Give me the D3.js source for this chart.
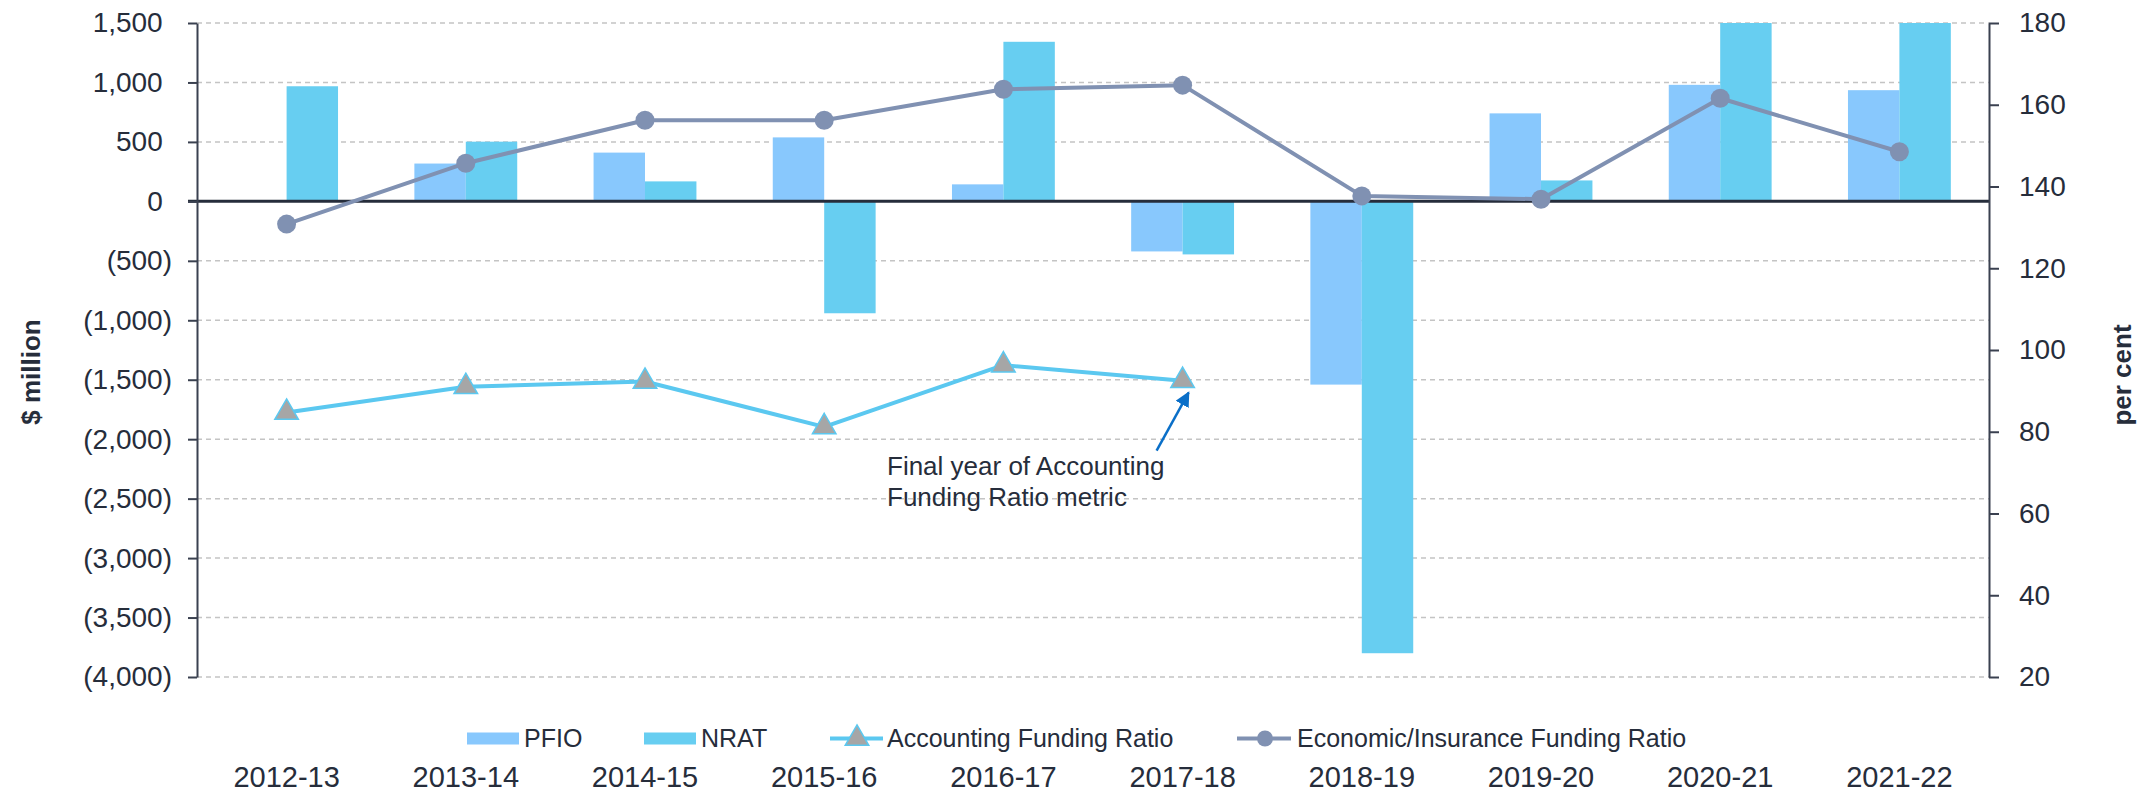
<!DOCTYPE html>
<html>
<head>
<meta charset="utf-8">
<script src="https://cdn.jsdelivr.net/npm/d3@7"></script>
<style>
  html, body { margin: 0; padding: 0; background: #fff; }
  svg { display: block; font-family: "Liberation Sans", Arial, sans-serif; }
</style>
</head>
<body>
<svg id="chart" width="2152" height="805"></svg>
<script>
// ---- data ----
const categories = ["2012-13","2013-14","2014-15","2015-16","2016-17","2017-18","2018-19","2019-20","2020-21","2021-22"];
const pfio = [0, 318, 410, 538, 143, -421, -1541, 740, 980, 935];
const nrat = [968, 502, 168, -941, 1342, -446, -3800, 176, 1500, 1500];
const accountingRatio = [84.7, 91.0, 92.3, 81.2, 96.3, 92.5, null, null, null, null];
const economicRatio = [130.8, 145.7, 156.2, 156.2, 163.8, 164.8, 137.7, 136.9, 161.6, 148.5];
const leftTicks = [1500, 1000, 500, 0, -500, -1000, -1500, -2000, -2500, -3000, -3500, -4000];
const rightTicks = [20, 40, 60, 80, 100, 120, 140, 160, 180];
const seriesNames = ["PFIO", "NRAT", "Accounting Funding Ratio", "Economic/Insurance Funding Ratio"];
const annotationLines = ["Final year of Accounting", "Funding Ratio metric"];
const leftTitle = "$ million";
const rightTitle = "per cent";

// ---- styles ----
const C = {
  pfio: "#88C8FD",
  nrat: "#67CEF1",
  acc: "#5BC8F0",
  accMarker: "#A6A6A6",
  eco: "#8091B2",
  text: "#262D3B",
  axis: "#3A4150",
  grid: "#C4C4C4",
  arrow: "#0A6FC8"
};

const svg = d3.select("#chart");
const L = 197, R = 1989, T = 23, B = 677;

const x = d3.scaleBand().domain(categories).range([L, R]).paddingInner(0).paddingOuter(0);
const y = d3.scaleLinear().domain([-4000, 1500]).range([B, T]);
const y2 = d3.scaleLinear().domain([20, 180]).range([B, T]);
const barW = x.bandwidth() * 0.287;

// gridlines
svg.append("g").selectAll("line").data(leftTicks.filter(d => d !== 0)).join("line")
  .attr("x1", L).attr("x2", R)
  .attr("y1", d => y(d)).attr("y2", d => y(d))
  .attr("stroke", C.grid).attr("stroke-width", 1.5).attr("stroke-dasharray", "5,4");

// bars
const bars = svg.append("g");
bars.selectAll("rect.pfio").data(categories).join("rect").attr("class", "pfio")
  .attr("x", (c) => x(c) + x.bandwidth() / 2 - barW)
  .attr("width", barW)
  .attr("y", (c, i) => Math.min(y(pfio[i]), y(0)))
  .attr("height", (c, i) => Math.abs(y(pfio[i]) - y(0)))
  .attr("fill", C.pfio);
bars.selectAll("rect.nrat").data(categories).join("rect").attr("class", "nrat")
  .attr("x", (c) => x(c) + x.bandwidth() / 2)
  .attr("width", barW)
  .attr("y", (c, i) => Math.min(y(nrat[i]), y(0)))
  .attr("height", (c, i) => Math.abs(y(nrat[i]) - y(0)))
  .attr("fill", C.nrat);

// zero line
svg.append("line").attr("x1", L - 9).attr("x2", R).attr("y1", y(0)).attr("y2", y(0))
  .attr("stroke", C.text).attr("stroke-width", 3);

// left axis
const fmt = d3.format(",");
const ax = svg.append("g").attr("transform", `translate(${L},0)`)
  .call(d3.axisLeft(y).tickValues(leftTicks).tickSize(9).tickSizeOuter(0).tickPadding(16)
    .tickFormat(d => d < 0 ? "(" + fmt(-d) + ")" : fmt(d)));
ax.select(".domain").attr("stroke", C.axis).attr("stroke-width", 2);
ax.selectAll(".tick line").attr("stroke", C.axis).attr("stroke-width", 2);
ax.selectAll(".tick text").attr("fill", C.text).attr("font-size", 28)
  .attr("font-family", "Liberation Sans, Arial, sans-serif")
  .attr("dx", d => d >= 0 ? -9.3 : 0);

// right axis
const ax2 = svg.append("g").attr("transform", `translate(${R},0)`)
  .call(d3.axisRight(y2).tickValues(rightTicks).tickSize(10).tickSizeOuter(0).tickPadding(20));
ax2.select(".domain").attr("stroke", C.axis).attr("stroke-width", 2);
ax2.selectAll(".tick line").attr("stroke", C.axis).attr("stroke-width", 2);
ax2.selectAll(".tick text").attr("fill", C.text).attr("font-size", 28)
  .attr("font-family", "Liberation Sans, Arial, sans-serif");

// category labels
svg.append("g").selectAll("text").data(categories).join("text")
  .attr("x", c => x(c) + x.bandwidth() / 2).attr("y", 787)
  .attr("text-anchor", "middle").attr("font-size", 29).attr("fill", C.text)
  .text(c => c);

// accounting line
const accPts = categories.map((c, i) => ({ c, v: accountingRatio[i] })).filter(d => d.v != null);
const line = d3.line().x(d => x(d.c) + x.bandwidth() / 2).y(d => y2(d.v));
svg.append("path").datum(accPts).attr("d", line)
  .attr("fill", "none").attr("stroke", C.acc).attr("stroke-width", 4).attr("stroke-linejoin", "round");
const tri = d3.symbol().type(d3.symbolTriangle).size(240);
svg.append("g").selectAll("path").data(accPts).join("path")
  .attr("d", tri)
  .attr("transform", d => `translate(${x(d.c) + x.bandwidth() / 2},${y2(d.v)})`)
  .attr("fill", C.accMarker).attr("stroke", C.acc).attr("stroke-width", 1.5);

// economic line
const ecoPts = categories.map((c, i) => ({ c, v: economicRatio[i] }));
svg.append("path").datum(ecoPts).attr("d", line)
  .attr("fill", "none").attr("stroke", C.eco).attr("stroke-width", 4).attr("stroke-linejoin", "round");
svg.append("g").selectAll("circle").data(ecoPts).join("circle")
  .attr("cx", d => x(d.c) + x.bandwidth() / 2).attr("cy", d => y2(d.v)).attr("r", 9.5)
  .attr("fill", C.eco);

// annotation
const defs = svg.append("defs");
defs.append("marker").attr("id", "arrowhead").attr("viewBox", "0 0 10 10")
  .attr("refX", 9).attr("refY", 5).attr("markerWidth", 6).attr("markerHeight", 6)
  .attr("orient", "auto")
  .append("path").attr("d", "M0,0 L10,5 L0,10 z").attr("fill", C.arrow);
const lastAcc = accPts[accPts.length - 1];
const ax0 = x(lastAcc.c) + x.bandwidth() / 2;
svg.append("line")
  .attr("x1", ax0 - 26).attr("y1", y2(lastAcc.v) + 70)
  .attr("x2", ax0 + 6).attr("y2", y2(lastAcc.v) + 12)
  .attr("stroke", C.arrow).attr("stroke-width", 2.5).attr("marker-end", "url(#arrowhead)");
svg.append("g").selectAll("text").data(annotationLines).join("text")
  .attr("x", 887).attr("y", (d, i) => 475 + i * 31)
  .attr("font-size", 26).attr("fill", C.text).text(d => d);

// axis titles
svg.append("text").attr("transform", "translate(40,372) rotate(-90)")
  .attr("text-anchor", "middle").attr("font-size", 26).attr("font-weight", "bold")
  .attr("fill", C.text).text(leftTitle);
svg.append("text").attr("transform", "translate(2131,375) rotate(-90)")
  .attr("text-anchor", "middle").attr("font-size", 26).attr("font-weight", "bold")
  .attr("fill", C.text).text(rightTitle);

// legend
const lg = svg.append("g");
const ly = 738.5;
const legendX = [467, 644, 830, 1237];
lg.append("rect").attr("x", legendX[0]).attr("y", ly - 6).attr("width", 52).attr("height", 12).attr("fill", C.pfio);
lg.append("rect").attr("x", legendX[1]).attr("y", ly - 6).attr("width", 52).attr("height", 12).attr("fill", C.nrat);
lg.append("line").attr("x1", legendX[2]).attr("x2", legendX[2] + 53).attr("y1", ly).attr("y2", ly)
  .attr("stroke", C.acc).attr("stroke-width", 4);
lg.append("path").attr("d", tri).attr("transform", `translate(${legendX[2] + 27},${ly})`)
  .attr("fill", C.accMarker).attr("stroke", C.acc).attr("stroke-width", 1.5);
lg.append("line").attr("x1", legendX[3]).attr("x2", legendX[3] + 54).attr("y1", ly).attr("y2", ly)
  .attr("stroke", C.eco).attr("stroke-width", 4);
lg.append("circle").attr("cx", legendX[3] + 28).attr("cy", ly).attr("r", 8).attr("fill", C.eco);
const textX = [524, 701, 887, 1297];
lg.selectAll("text").data(seriesNames).join("text")
  .attr("x", (d, i) => textX[i]).attr("y", 747)
  .attr("font-size", 25).attr("fill", C.text).text(d => d);
</script>
</body>
</html>
